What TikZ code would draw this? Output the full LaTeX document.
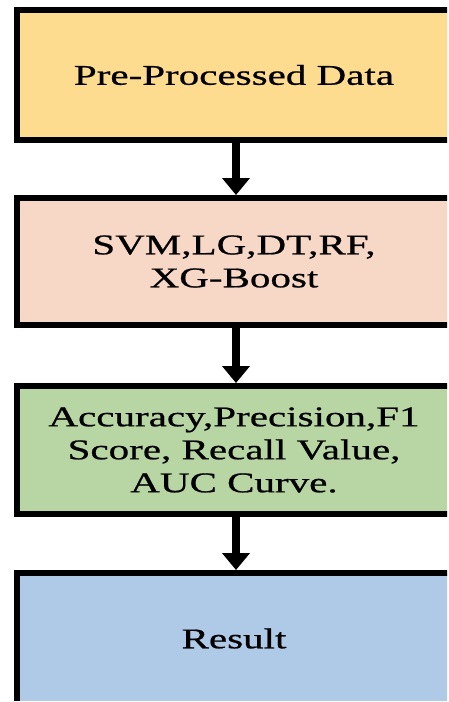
\documentclass[tikz,border=0pt]{standalone}
\usepackage{fontspec}
\setmainfont{Liberation Serif}
\newfontfamily\boxfont[FakeStretch=1.44,FakeBold=0.7]{Liberation Serif}
\usetikzlibrary{arrows.meta}

\definecolor{stageyellow}{HTML}{FDDB8F}
\definecolor{stagepink}{HTML}{F7D8C6}
\definecolor{stagegreen}{HTML}{B7D6A3}
\definecolor{stageblue}{HTML}{AFCAE6}

\begin{document}
\begin{tikzpicture}[x=1pt,y=-1pt,
  stagebox/.style={draw=black, line width=6pt, minimum width=434pt,
    inner sep=0pt, align=center, text=black,
    font=\boxfont\fontsize{28.5}{33}\selectfont},
  flow/.style={draw=black, line width=8pt,
    -{Triangle[width=27pt,length=17pt]}}]
\useasboundingbox (0,0) rectangle (449,702);
\clip (0,0) rectangle (447,700);

% pipeline stages, top to bottom
\node[stagebox, fill=stageyellow, minimum height=130pt] (prep)    at (234,75)    {Pre-Processed Data};
\node[stagebox, fill=stagepink,   minimum height=127pt] (models)  at (234,261.5) {SVM,LG,DT,RF,\\XG-Boost};
\node[stagebox, fill=stagegreen,  minimum height=128pt] (metrics) at (234,450)   {Accuracy,Precision,F1\\Score, Recall Value,\\AUC Curve.};
\node[stagebox, fill=stageblue,   minimum height=131pt] (result)  at (234,638.5) {Result};

% connectors between stages
\draw[flow] ([xshift=2pt]prep.south)    -- ([xshift=2pt]models.north);
\draw[flow] ([xshift=2pt]models.south)  -- ([xshift=2pt]metrics.north);
\draw[flow] ([xshift=2pt]metrics.south) -- ([xshift=2pt]result.north);
\end{tikzpicture}
\end{document}
